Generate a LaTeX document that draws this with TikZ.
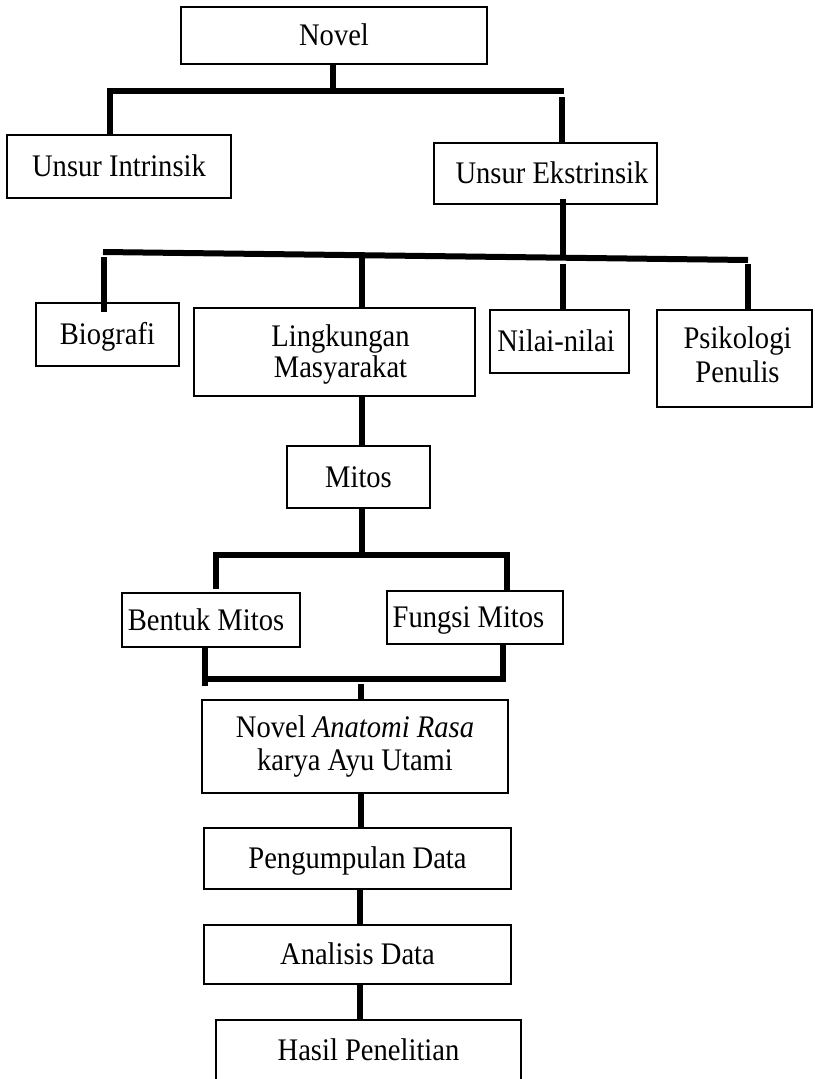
\documentclass[tikz,border=0pt]{standalone}
\usepackage{fontspec}
\setmainfont{Liberation Serif}[FakeStretch=0.91]
\begin{document}
\begin{tikzpicture}[x=1pt,y=-1pt,
  box/.style={draw=black, line width=1.2pt, inner sep=0pt, outer sep=0pt,
    font=\fontsize{31.4}{33}\selectfont, text height=20.8pt, text depth=0pt},
  mbox/.style={draw=black, line width=1.2pt, inner sep=0pt, outer sep=0pt, align=center},
  conn/.style={line width=6pt, line cap=butt, line join=miter}]
\useasboundingbox (0,0) rectangle (814,1079);

% boxes
\node[box, minimum width=306pt, minimum height=57pt] (novel) at (334,35.5) {Novel};
\node[box, minimum width=224pt, minimum height=63pt] (intr) at (119,166.5) {Unsur Intrinsik};
\node[box, minimum width=223pt, minimum height=61pt] (ekst) at (545.5,173.5) {\hspace*{13pt}Unsur Ekstrinsik};
\node[box, minimum width=143pt, minimum height=63pt] (bio) at (107.5,334.5) {Biografi};
\node[mbox, font=\fontsize{31.4}{31}\selectfont, minimum width=281pt, minimum height=88pt] (ling) at (334.5,352)
  {\rule{0pt}{27.4pt}\hspace*{12pt}Lingkungan\\\hspace*{12pt}Masyarakat};
\node[box, minimum width=139pt, minimum height=63pt] (nilai) at (559.5,341.5) {Nilai-nilai\hspace*{7pt}};
\node[mbox, font=\fontsize{31.4}{34}\selectfont, minimum width=155pt, minimum height=97pt] (psi) at (734.5,358.5)
  {\hspace*{6pt}Psikologi\\\hspace*{6pt}Penulis\rule[-8pt]{0pt}{8pt}};
\node[box, minimum width=143pt, minimum height=62pt] (mitos) at (358.5,477) {Mitos};
\node[box, minimum width=178pt, minimum height=54pt] (bentuk) at (211,620) {Bentuk Mitos\hspace*{10pt}};
\node[box, minimum width=176pt, minimum height=53pt] (fungsi) at (475,617.5) {Fungsi Mitos\hspace*{13pt}};
\node[mbox, font=\fontsize{31.4}{33}\selectfont, minimum width=306pt, minimum height=93pt] (anat) at (355,746.5)
  {Novel \textit{Anatomi Rasa}\\karya Ayu Utami};
\node[box, minimum width=307pt, minimum height=61pt] (pengum) at (357.5,858.5) {Pengumpulan Data};
\node[box, minimum width=307pt, minimum height=59pt] (anal) at (357.5,954.5) {Analisis Data};
\node[box, minimum width=305pt, minimum height=61pt] (hasil) at (368.5,1050.5) {Hasil Penelitian};

% bus coordinates
\coordinate (b1L) at (109.5,91);
\coordinate (b1R) at (564,91);
\coordinate (r1) at (562,97);
\coordinate (b2L) at (103,252);
\coordinate (b2R) at (748,260);
\coordinate (e2) at (563,256);
\coordinate (d2a) at (104,257);
\coordinate (d2b) at (362,258);
\coordinate (d2c) at (563,264);
\coordinate (d2d) at (748,264);
\coordinate (cx) at (362,555);
\coordinate (b3L) at (216,555);
\coordinate (b3R) at (507,555);
\coordinate (b4L) at (205,679);
\coordinate (b4Le) at (205,686);
\coordinate (b4R) at (503,679);
\coordinate (b4M) at (361,684);
\coordinate (vx) at (361,0);
\coordinate (vy) at (360,0);

% connectors level 1
\draw[conn] ([xshift=-1pt]novel.south) -- ([xshift=-1pt]novel.south |- b1L);
\draw[conn] (intr.north -| b1L) -- (b1L) -- (b1R);
\draw[conn] (r1) -- (ekst.north -| r1);

% level 2
\draw[conn] ([yshift=5pt]ekst.south -| e2) -- (e2);
\draw[conn] (b2L) -- (b2R);
\draw[conn] (d2a) -- ([yshift=-9pt]bio.north -| d2a);
\draw[conn] (d2b) -- (ling.north -| d2b);
\draw[conn] (d2c) -- (nilai.north -| d2c);
\draw[conn] (d2d) -- (psi.north -| d2d);

% level 3
\draw[conn] (ling.south -| cx) -- (mitos.north -| cx);
\draw[conn] (mitos.south -| cx) -- (cx);
\draw[conn] ([yshift=4pt]bentuk.north -| b3L) -- (b3L) -- (b3R) -- (fungsi.north -| b3R);

% level 4
\draw[conn] (bentuk.south -| b4Le) -- (b4Le);
\draw[conn] (b4L) -- (b4R) -- (fungsi.south -| b4R);
\draw[conn] (b4M) -- (anat.north -| b4M);

% chain
\draw[conn] (anat.south -| vx) -- (pengum.north -| vx);
\draw[conn] (pengum.south -| vy) -- (anal.north -| vy);
\draw[conn] (anal.south -| vy) -- (hasil.north -| vy);
\end{tikzpicture}
\end{document}
